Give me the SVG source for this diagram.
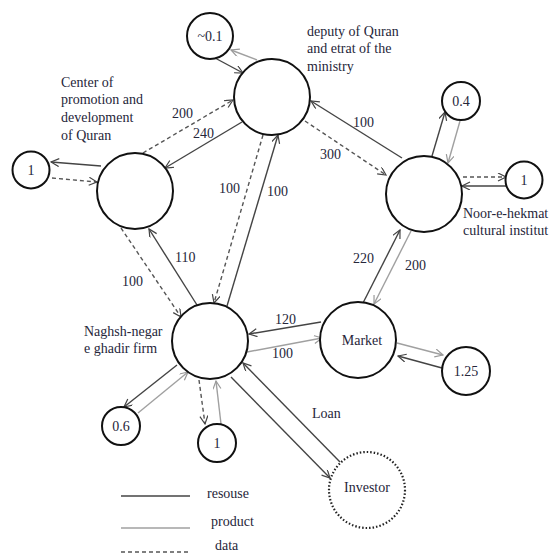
<svg xmlns="http://www.w3.org/2000/svg" width="554" height="555" viewBox="0 0 554 555">
<defs>
<marker id="aD" markerWidth="10" markerHeight="10" refX="9" refY="4" orient="auto" markerUnits="userSpaceOnUse"><path d="M1,0 L9,4 L1,8" fill="none" stroke="#444" stroke-width="1.2"/></marker>
<marker id="aG" markerWidth="10" markerHeight="10" refX="9" refY="4" orient="auto" markerUnits="userSpaceOnUse"><path d="M1,0 L9,4 L1,8" fill="none" stroke="#999" stroke-width="1.2"/></marker>
</defs>
<style>
.n{fill:#fff;stroke:#111;stroke-width:2}
.inv{fill:#fff;stroke:#222;stroke-width:2.2;stroke-dasharray:1.5 2}
.r{stroke:#444;stroke-width:1.4;fill:none;marker-end:url(#aD)}
.p{stroke:#a0a0a0;stroke-width:1.4;fill:none;marker-end:url(#aG)}
.d{stroke:#555;stroke-width:1.4;fill:none;stroke-dasharray:4 3;marker-end:url(#aD)}
text{font-family:"Liberation Serif","Times New Roman",serif;font-size:14px;fill:#26263a}
.c{text-anchor:middle}
.lr{stroke:#444;stroke-width:1.4}
.lp{stroke:#a0a0a0;stroke-width:1.6}
.ld{stroke:#555;stroke-width:1.4;stroke-dasharray:4 3}
</style>
<g id="connectors">
<line class="p" x1="257" y1="60" x2="231" y2="50"/>
<line class="r" x1="215" y1="58" x2="243" y2="73"/>
<line class="d" x1="143" y1="153" x2="233" y2="100"/>
<line class="r" x1="242" y1="122" x2="165" y2="168"/>
<line class="r" x1="101" y1="166" x2="51" y2="162"/>
<line class="d" x1="52" y1="178" x2="97" y2="182"/>
<line class="d" x1="263" y1="135" x2="214" y2="303"/>
<line class="r" x1="227" y1="306" x2="278" y2="135"/>
<line class="r" x1="402" y1="158" x2="311" y2="101"/>
<line class="d" x1="305" y1="121" x2="386" y2="175"/>
<line class="r" x1="432" y1="156" x2="445" y2="112"/>
<line class="p" x1="460" y1="121" x2="448" y2="163"/>
<line class="d" x1="463" y1="177" x2="506" y2="177"/>
<line class="r" x1="506" y1="186" x2="462" y2="186"/>
<line class="r" x1="363" y1="303" x2="400" y2="230"/>
<line class="p" x1="411" y1="231" x2="374" y2="304"/>
<line class="r" x1="321" y1="322" x2="249" y2="334"/>
<line class="p" x1="247" y1="352" x2="322" y2="338"/>
<line class="p" x1="397" y1="343" x2="443" y2="355"/>
<line class="r" x1="442" y1="368" x2="398" y2="356"/>
<line class="r" x1="340" y1="462" x2="243" y2="363"/>
<line class="r" x1="231" y1="377" x2="330" y2="478"/>
<line class="d" x1="121" y1="228" x2="181" y2="317"/>
<line class="r" x1="197" y1="305" x2="149" y2="229"/>
<line class="r" x1="177" y1="365" x2="124" y2="407"/>
<line class="p" x1="138" y1="413" x2="188" y2="372"/>
<line class="d" x1="199" y1="380" x2="205" y2="424"/>
<line class="p" x1="221" y1="424" x2="216" y2="381"/>
</g>
<g id="deputy"><circle class="n" cx="272" cy="97" r="38"/>
<text x="307" y="36">deputy of Quran</text><text x="307" y="53">and etrat of the</text><text x="307" y="71">ministry</text></g>
<g id="center"><circle class="n" cx="135" cy="191" r="38"/>
<text x="61" y="87">Center of</text><text x="61" y="104">promotion and</text><text x="61" y="122">development</text><text x="61" y="140">of Quran</text></g>
<g id="noor"><circle class="n" cx="424" cy="194" r="38"/>
<text x="463" y="218">Noor-e-hekmat</text><text x="463" y="235">cultural institut</text></g>
<g id="naghsh"><circle class="n" cx="210" cy="341" r="38"/>
<text x="84" y="336">Naghsh-negar</text><text x="84" y="353">e ghadir firm</text></g>
<g id="market"><circle class="n" cx="358" cy="340" r="38"/><text class="c" x="362" y="345">Market</text></g>
<g id="investor"><circle class="inv" cx="367" cy="490" r="38"/><text class="c" x="367" y="492">Investor</text></g>
<g id="n01"><circle class="n" cx="210" cy="36" r="23"/><text class="c" x="210" y="41">~0.1</text></g>
<g id="n1a"><circle class="n" cx="31" cy="170" r="18.5"/><text class="c" x="31" y="175">1</text></g>
<g id="n04"><circle class="n" cx="461" cy="101" r="19"/><text class="c" x="461" y="106">0.4</text></g>
<g id="n1b"><circle class="n" cx="524" cy="180" r="18.5"/><text class="c" x="524" y="185">1</text></g>
<g id="n125"><circle class="n" cx="466" cy="371" r="24"/><text class="c" x="466" y="376">1.25</text></g>
<g id="n06"><circle class="n" cx="121" cy="426" r="19"/><text class="c" x="121" y="431">0.6</text></g>
<g id="n1c"><circle class="n" cx="217" cy="443" r="19"/><text class="c" x="217" y="448">1</text></g>
<g id="labels">
<text x="172" y="118">200</text><text x="193" y="138">240</text>
<text x="219" y="193">100</text><text x="267" y="196">100</text>
<text x="353" y="127">100</text><text x="320" y="159">300</text>
<text x="353" y="263">220</text><text x="405" y="270">200</text>
<text x="275" y="324">120</text><text x="272" y="358">100</text>
<text x="122" y="286">100</text><text x="175" y="262">110</text>
<text x="312" y="418">Loan</text>
</g>
<g id="legend">
<line class="lr" x1="121" y1="496" x2="190" y2="496"/><text x="207" y="498">resouse</text>
<line class="lp" x1="121" y1="528" x2="190" y2="528"/><text x="211" y="526">product</text>
<line class="ld" x1="121" y1="552" x2="190" y2="552"/><text x="215" y="550" font-size="13">data</text>
</g>
</svg>
